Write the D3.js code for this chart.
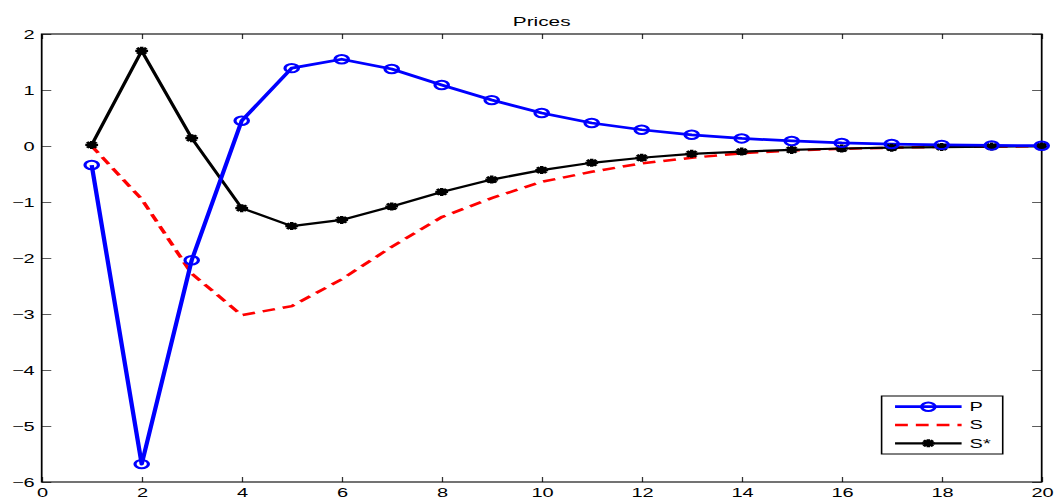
<!DOCTYPE html>
<html>
<head>
<meta charset="utf-8">
<script src="https://cdn.jsdelivr.net/npm/d3@7"></script>
<style>
  html, body { margin: 0; padding: 0; background: #fff; }
  svg { display: block; }
  text { font-family: "Liberation Sans", Arial, Helvetica, sans-serif; }
</style>
</head>
<body>
<svg id="chart" width="1057" height="499"></svg>
<script>
// ---- data ----
const periods = [1,2,3,4,5,6,7,8,9,10,11,12,13,14,15,16,17,18,19,20];
const seriesP = [-0.34,-5.68,-2.04,0.45,1.39,1.55,1.375,1.09,0.82,0.59,0.41,0.29,0.20,0.135,0.09,0.055,0.035,0.02,0.01,0.005];
const seriesS = [0.0,-0.95,-2.28,-3.02,-2.86,-2.38,-1.80,-1.27,-0.93,-0.64,-0.46,-0.31,-0.21,-0.13,-0.08,-0.05,-0.03,-0.015,-0.01,-0.005];
const seriesSstar = [0.02,1.70,0.14,-1.11,-1.43,-1.32,-1.08,-0.82,-0.60,-0.43,-0.30,-0.21,-0.14,-0.10,-0.07,-0.045,-0.03,-0.02,-0.01,-0.005];
const xTicks = [0,2,4,6,8,10,12,14,16,18,20];
const yTicks = [-6,-5,-4,-3,-2,-1,0,1,2];
const legendLabels = ["P","S","S*"];
const titleText = "Prices";

(function(){
// ---- layout (inner coordinates, whole figure stretched horizontally) ----
const SX = 1.6;
const pL = 26.06, pR = 651.06, pT = 34, pB = 482;

const svg = d3.select("#chart");
const g = svg.append("g").attr("transform", `scale(${SX},1)`);

const x = d3.scaleLinear().domain([0,20]).range([pL,pR]);
const y = d3.scaleLinear().domain([-6,2]).range([pB,pT]);

const fmt = d => d < 0 ? "\u2212" + Math.abs(d) : String(d);
const fontSize = 12.5;

// axes
const ax = g.append("g").attr("transform", `translate(0,${pB})`)
  .call(d3.axisBottom(x).tickValues(xTicks).tickSize(-5).tickSizeOuter(0).tickPadding(6).tickFormat(fmt));
const ay = g.append("g").attr("transform", `translate(${pL},0)`)
  .call(d3.axisLeft(y).tickValues(yTicks).tickSize(-6).tickSizeOuter(0).tickPadding(4.4).tickFormat(fmt));
const at = g.append("g").attr("transform", `translate(0,${pT})`)
  .call(d3.axisTop(x).tickValues(xTicks).tickSize(-5).tickSizeOuter(0).tickFormat(""));
const ar = g.append("g").attr("transform", `translate(${pR},0)`)
  .call(d3.axisRight(y).tickValues(yTicks).tickSize(-6).tickSizeOuter(0).tickFormat(""));
[ax,ay,at,ar].forEach(a => {
  a.select(".domain").remove();
  a.selectAll(".tick line").attr("stroke","#333").attr("stroke-width",0.8);
  a.selectAll("text").attr("font-family",'"Liberation Sans", Arial, sans-serif')
    .attr("font-size",fontSize).attr("fill","#000");
});

// box
g.append("rect").attr("x",pL).attr("y",pT).attr("width",pR-pL).attr("height",pB-pT)
  .attr("fill","none").attr("stroke","#000").attr("stroke-width",1.1);

// title
g.append("text").attr("x",(pL+pR)/2).attr("y",26).attr("text-anchor","middle")
  .attr("font-size",13).text(titleText);

// lines
const line = d3.line().x((d,i)=>x(periods[i])).y(d=>y(d));

g.append("path").datum(seriesS).attr("d",line).attr("fill","none")
  .attr("stroke","#ff0000").attr("stroke-width",2.5).attr("stroke-dasharray","8,5");

g.append("path").datum(seriesSstar).attr("d",line).attr("fill","none")
  .attr("stroke","#000").attr("stroke-width",2.2).attr("stroke-linejoin","round");

g.append("path").datum(seriesP).attr("d",line).attr("fill","none")
  .attr("stroke","#0000ff").attr("stroke-width",2.7).attr("stroke-linejoin","round");

// markers
const starPath = "M-4,0L4,0M0,-4L0,4M-2.9,-2.9L2.9,2.9M-2.9,2.9L2.9,-2.9";
g.append("g").selectAll("path").data(seriesSstar).join("path")
  .attr("transform",(d,i)=>`translate(${x(periods[i])},${y(d)})`)
  .attr("d",starPath).attr("stroke","#000").attr("stroke-width",2.2).attr("fill","none");

g.append("g").selectAll("circle").data(seriesP).join("circle")
  .attr("cx",(d,i)=>x(periods[i])).attr("cy",d=>y(d)).attr("r",4.2)
  .attr("fill","none").attr("stroke","#0000ff").attr("stroke-width",2);

// legend
const lg = g.append("g");
const lx0 = 551, lx1 = 626.7, ly0 = 396, ly1 = 454;
lg.append("rect").attr("x",lx0).attr("y",ly0).attr("width",lx1-lx0).attr("height",ly1-ly0)
  .attr("fill","#fff").attr("stroke","#000").attr("stroke-width",1);
const rowsY = [406.7, 425, 443.3];
const lineX0 = 559.4, lineX1 = 601, textX = 606;
const styles = [
  {stroke:"#0000ff", w:2.7, dash:null},
  {stroke:"#ff0000", w:2.5, dash:"8,5"},
  {stroke:"#000", w:2.2, dash:null}
];
legendLabels.forEach((lab,i) => {
  const s = styles[i];
  lg.append("line").attr("x1",lineX0).attr("x2",lineX1).attr("y1",rowsY[i]).attr("y2",rowsY[i])
    .attr("stroke",s.stroke).attr("stroke-width",s.w).attr("stroke-dasharray",s.dash);
  lg.append("text").attr("x",textX).attr("y",rowsY[i]).attr("dy","0.35em")
    .attr("font-size",fontSize).text(lab);
});
const mx = (lineX0+lineX1)/2;
lg.append("circle").attr("cx",mx).attr("cy",rowsY[0]).attr("r",4.2)
  .attr("fill","none").attr("stroke","#0000ff").attr("stroke-width",2);
lg.append("path").attr("transform",`translate(${mx},${rowsY[2]})`).attr("d",starPath)
  .attr("stroke","#000").attr("stroke-width",2.2).attr("fill","none");
})();
</script>
</body>
</html>
